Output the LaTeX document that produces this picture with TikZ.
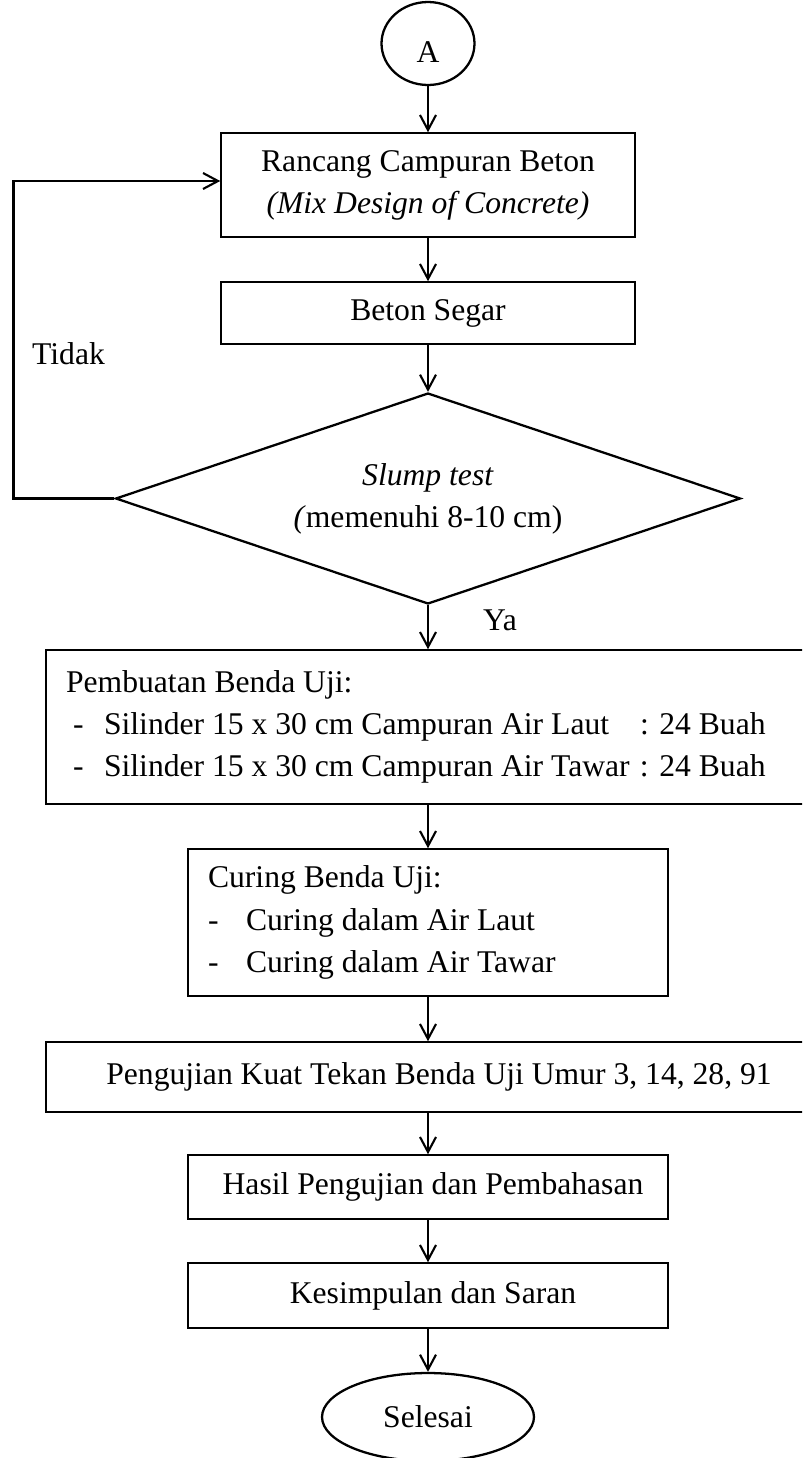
\documentclass[tikz,border=0pt]{standalone}
\usepackage{fontspec}
\setmainfont{Liberation Serif}
\usetikzlibrary{arrows.meta,shapes.geometric}

\begin{document}
\begin{tikzpicture}[x=0.02cm,y=-0.02cm,
  every node/.style={font=\fontsize{18}{24}\selectfont},
  proses/.style={draw,line width=0.9pt,rectangle,inner sep=0pt,align=center},
  daftar/.style={draw,line width=0.9pt,rectangle,inner xsep=0.4cm,inner ysep=0pt,align=flush left},
  terminal/.style={draw,line width=1.3pt,ellipse,inner sep=0pt},
  keputusan/.style={draw,line width=1.3pt,diamond,aspect=3,inner sep=0pt,align=center},
  panah/.style={line width=1.2pt,-{Straight Barb[length=3mm,width=3.2mm]}}]
  \useasboundingbox (0,0) rectangle (802,1458);
  \clip (0,0) rectangle (802,1458);
  % terminals and process boxes
  \node[terminal,minimum width=1.86cm,minimum height=1.66cm,text height=0.74cm,text depth=0pt] (mulai) at (428,43.5) {A};
  \node[proses,minimum width=8.28cm,minimum height=2.08cm] (rancang) at (428,185)
    {Rancang Campuran Beton\\\textit{(Mix Design of Concrete)}};
  \node[proses,minimum width=8.28cm,minimum height=1.24cm] (segar) at (428,313) {Beton Segar};
  \node[keputusan,minimum width=12.5cm,minimum height=4.22cm] (slump) at (428,498.5)
    {\textit{Slump test}\\\textit{(}memenuhi 8-10 cm)};
  \node[daftar,minimum width=15.28cm,minimum height=3.08cm,text width=14.48cm] (buat) at (428,727)
    {Pembuatan Benda Uji:\\
     \makebox[0.76cm][l]{\hspace{0.14cm}-}\makebox[10.72cm][l]{Silinder 15 x 30 cm Campuran Air Laut}: 24 Buah\\
     \makebox[0.76cm][l]{\hspace{0.14cm}-}\makebox[10.72cm][l]{Silinder 15 x 30 cm Campuran Air Tawar}: 24 Buah};
  \node[daftar,minimum width=9.6cm,minimum height=2.94cm,text width=8.8cm] (curing) at (428,922.5)
    {Curing Benda Uji:\\
     \makebox[0.76cm][l]{-}Curing dalam Air Laut\\
     \makebox[0.76cm][l]{-}Curing dalam Air Tawar};
  \node[proses,minimum width=15.28cm,minimum height=1.4cm] (uji) at (428,1077)
    {\hspace*{0.44cm}Pengujian Kuat Tekan Benda Uji Umur 3, 14, 28, 91};
  \node[proses,minimum width=9.6cm,minimum height=1.28cm] (hasil) at (428,1187)
    {\hspace*{0.2cm}Hasil Pengujian dan Pembahasan};
  \node[proses,minimum width=9.6cm,minimum height=1.3cm] (simpul) at (428,1295.5)
    {\hspace*{0.2cm}Kesimpulan dan Saran};
  \node[terminal,minimum width=4.24cm,minimum height=1.76cm] (selesai) at (428,1417) {Selesai};
  % labels of the decision
  \node[anchor=base west] (tidak) at (26,364) {Tidak};
  \node[anchor=base west] (ya) at (477,630) {Ya};
  % flow
  \draw[panah] (mulai) -- (rancang);
  \draw[panah] (rancang) -- (segar);
  \draw[panah] (segar) -- (slump);
  \draw[panah] (slump) -- (buat);
  \draw[panah] (buat) -- (curing);
  \draw[panah] (curing) -- (uji);
  \draw[panah] (uji) -- (hasil);
  \draw[panah] (hasil) -- (simpul);
  \draw[panah] (simpul) -- (selesai);
  % back to the mix design
  \coordinate (balik) at (13.5,498.5);
  \draw[panah] (slump.west) -- (balik) |- ([yshift=0.08cm]rancang.west);
\end{tikzpicture}
\end{document}
